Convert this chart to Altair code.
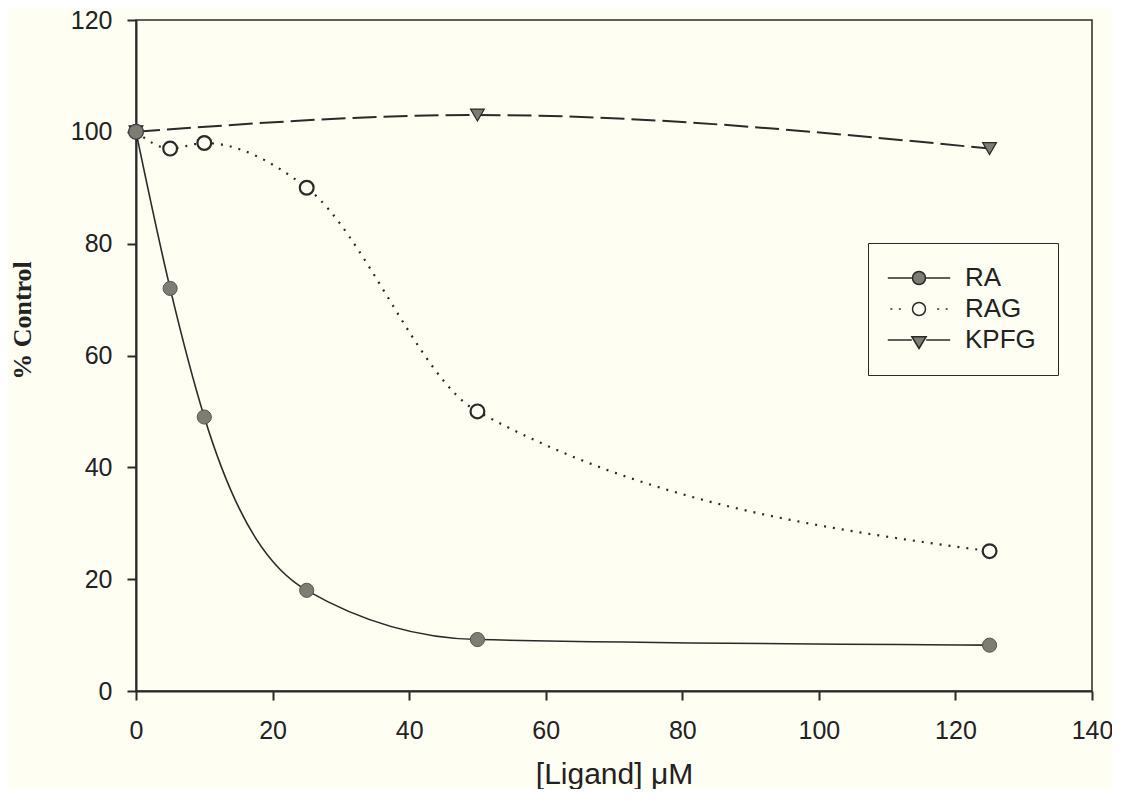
import altair as alt
import pandas as pd

# ---- data ----
x_ra = [0, 5, 10, 25, 50, 125]
y_ra = [100, 72, 49, 18, 9.2, 8.2]
x_rag = [0, 5, 10, 25, 50, 125]
y_rag = [100, 97, 98, 90, 50, 25]
x_kpfg = [0, 50, 125]
y_kpfg = [100, 103, 97]
series_names = ["RA", "RAG", "KPFG"]
x_ticks = [0, 20, 40, 60, 80, 100, 120, 140]
y_ticks = [0, 20, 40, 60, 80, 100, 120]

BG = "#fefef3"
INK = "#2a2a2a"
GREY = "#7d7d74"

ra = pd.DataFrame({"x": x_ra, "y": y_ra})
rag = pd.DataFrame({"x": x_rag, "y": y_rag})
kpfg = pd.DataFrame({"x": x_kpfg, "y": y_kpfg})

x_enc = alt.X(
    "x:Q",
    scale=alt.Scale(domain=[0, 140], nice=False, zero=False),
    axis=alt.Axis(
        values=x_ticks, title="[Ligand] μM", grid=False,
        labelFlush=False, labelOverlap=False,
        labelFont="Liberation Sans", labelFontSize=25, labelColor="#222",
        labelPadding=18, tickSize=9, tickWidth=2, tickColor=INK,
        domainColor=INK, domainWidth=2,
        titleFont="Liberation Sans", titleFontSize=30, titleFontWeight="normal",
        titleColor="#222", titleBaseline="alphabetic", titleY=92,
    ),
)
y_enc = alt.Y(
    "y:Q",
    scale=alt.Scale(domain=[0, 120], nice=False, zero=False),
    axis=alt.Axis(
        values=y_ticks, title="% Control", grid=False,
        labelFlush=False, labelOverlap=False,
        labelFont="Liberation Sans", labelFontSize=25, labelColor="#222",
        labelPadding=15, tickSize=9, tickWidth=2, tickColor=INK,
        domainColor=INK, domainWidth=2,
        titleFont="Liberation Serif", titleFontSize=26, titleFontWeight="bold",
        titleColor="#222", titleBaseline="alphabetic", titleX=-106, titleY=300,
        titleAngle=270, titleAlign="center",
    ),
)

line_ra = alt.Chart(ra).mark_line(interpolate="monotone", color=INK, strokeWidth=1.6).encode(x=x_enc, y=y_enc)
line_rag = alt.Chart(rag).mark_line(interpolate="monotone", color=INK, strokeWidth=2.2, strokeDash=[2, 7]).encode(x=x_enc, y=y_enc)
line_kpfg = alt.Chart(kpfg).mark_line(interpolate="monotone", color=INK, strokeWidth=2, strokeDash=[24, 7]).encode(x=x_enc, y=y_enc)

pt_kpfg = alt.Chart(kpfg).mark_point(shape="triangle-down", filled=True, fill=GREY, stroke=INK, strokeWidth=1.2, size=190, opacity=1).encode(x=x_enc, y=y_enc)
pt_rag = alt.Chart(rag).mark_point(shape="circle", filled=True, fill=BG, stroke=INK, strokeWidth=2.2, size=190, opacity=1).encode(x=x_enc, y=y_enc)
pt_ra = alt.Chart(ra).mark_point(shape="circle", filled=True, fill=GREY, stroke="#555", strokeWidth=1, size=200, opacity=1).encode(x=x_enc, y=y_enc)

# legend symbols (line + marker) as custom shapes
circle = "M-1,0 A1,1 0 1,0 1,0 A1,1 0 1,0 -1,0 Z"
path_ra = "M-4.8,0 L-1,0 M1,0 L4.8,0 " + circle
path_rag = ("M-4.4,0 L-4.1,0 M-3.1,0 L-2.8,0 "
            "M2.8,0 L3.1,0 M4.1,0 L4.4,0 " + circle)
path_kpfg = "M-4.8,0 L-1.1,0 M1.1,0 L4.8,0 M-1.1,-0.5 L1.1,-0.5 L0,1.3 Z"
legend_paths = [path_ra, path_rag, path_kpfg]
legend_fills = [GREY, BG, GREY]
legend_strokes = [INK, INK, INK]

leg = alt.Legend(
    orient="none", legendX=732, legendY=223, title=None,
    labelFont="Liberation Sans", labelFontSize=26, labelColor="#222",
    symbolOffset=16, labelOffset=33, labelLimit=300, symbolSize=169, rowPadding=5,
    padding=22, strokeColor=INK, fillColor=BG,
    symbolStrokeWidth=1.5, symbolOpacity=1,
)
legend_df = pd.DataFrame({"series": series_names})
legend_layer = alt.Chart(legend_df).mark_point(filled=True, strokeWidth=1.5, size=169, opacity=1).encode(
    shape=alt.Shape("series:N", scale=alt.Scale(domain=series_names, range=legend_paths), legend=leg),
    fill=alt.Fill("series:N", scale=alt.Scale(domain=series_names, range=legend_fills), legend=leg),
    stroke=alt.Stroke("series:N", scale=alt.Scale(domain=series_names, range=legend_strokes), legend=leg),
).transform_filter("false")

chart = alt.layer(
    line_ra, line_rag, line_kpfg, pt_kpfg, pt_rag, pt_ra, legend_layer
).properties(
    width=956, height=671,
    autosize=alt.AutoSizeParams(type="none"),
    padding={"left": 128, "top": 12, "right": 20, "bottom": 98},
    background=BG,
).configure_view(stroke=INK, strokeWidth=1.5)

chart.save("out.html", embed_options={"renderer": "svg", "actions": False})
